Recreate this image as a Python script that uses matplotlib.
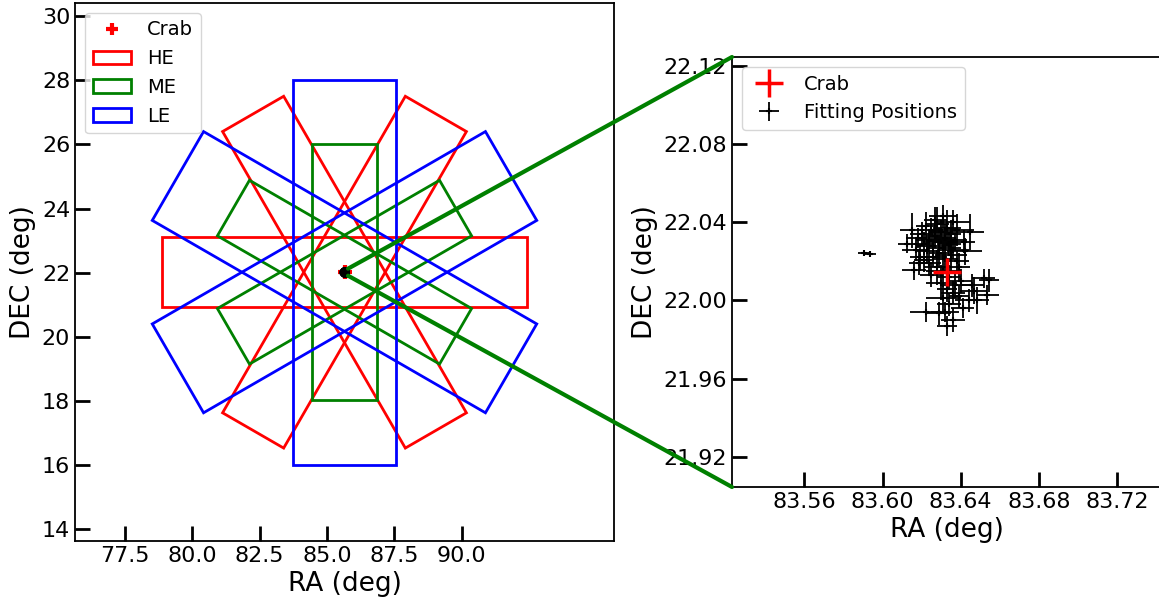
import numpy as np
import matplotlib
matplotlib.use("Agg")
import matplotlib.pyplot as plt
from matplotlib.patches import Polygon, ConnectionPatch

# Crab nebula position (deg)
crab_ra = 83.633
crab_dec = 22.0145

# centre of the field-of-view sketch as it sits on the left panel
fov_ra = 85.645
fov_dec = 22.0145

# full widths of the collimator fields (short side, long side) in deg
he_size = (2.2, 11.4)
me_size = (2.0, 8.0)
le_size = (3.2, 12.0)
# orientation of the long side (deg from the RA axis)
he_angles = [0, 60, -60]
me_angles = [90, 30, -30]
le_angles = [90, 30, -30]

# fitted source positions and their errors (deg)
fit_ra = [83.620, 83.622, 83.624, 83.625, 83.626, 83.627, 83.628, 83.629, 83.630, 83.631,
          83.632, 83.633, 83.634, 83.635, 83.636, 83.637, 83.638, 83.623, 83.626, 83.629,
          83.632, 83.635, 83.638, 83.621, 83.618, 83.617, 83.619, 83.624, 83.628, 83.631,
          83.634, 83.630, 83.633, 83.636, 83.631, 83.634, 83.632, 83.636, 83.633, 83.629,
          83.622, 83.640, 83.642, 83.6415, 83.645, 83.639, 83.6127, 83.6152, 83.6186, 83.616,
          83.6212, 83.646, 83.6467, 83.6518, 83.6544, 83.6486, 83.644, 83.6537, 83.5904, 83.5938,
          83.627, 83.631, 83.636, 83.625, 83.637, 83.639, 83.641]
fit_dec = [22.034, 22.038, 22.031, 22.036, 22.028, 22.033, 22.039, 22.030, 22.035, 22.027,
           22.032, 22.037, 22.029, 22.034, 22.026, 22.031, 22.036, 22.025, 22.022, 22.024,
           22.021, 22.023, 22.020, 22.029, 22.032, 22.026, 22.022, 22.019, 22.017, 22.015,
           22.012, 22.009, 22.006, 22.004, 22.001, 21.998, 21.994, 21.990, 21.987, 21.9934,
           21.994, 22.010, 22.025, 22.030, 22.035, 22.017, 22.029, 22.0358, 22.019, 22.0153,
           22.0204, 22.0077, 22.005, 22.0112, 22.0102, 22.000, 22.000, 22.0026, 22.0242, 22.0239,
           22.041, 22.043, 22.040, 22.013, 22.008, 22.002, 21.996]
fit_ra_err = [0.006, 0.005, 0.007, 0.006, 0.009, 0.005, 0.006, 0.008, 0.006, 0.009,
              0.005, 0.007, 0.006, 0.005, 0.008, 0.006, 0.009, 0.006, 0.007, 0.005,
              0.006, 0.008, 0.006, 0.005, 0.006, 0.007, 0.005, 0.006, 0.007, 0.009,
              0.006, 0.008, 0.005, 0.006, 0.009, 0.006, 0.007, 0.006, 0.005, 0.006,
              0.008, 0.006, 0.009, 0.006, 0.007, 0.006, 0.005, 0.006, 0.005, 0.006,
              0.005, 0.006, 0.007, 0.006, 0.005, 0.006, 0.007, 0.006, 0.003, 0.003,
              0.006, 0.007, 0.009, 0.006, 0.007, 0.005, 0.006]
fit_dec_err = [0.006, 0.007, 0.005, 0.006, 0.008, 0.006, 0.009, 0.007, 0.006, 0.005,
               0.007, 0.009, 0.006, 0.007, 0.005, 0.006, 0.008, 0.006, 0.005, 0.007,
               0.006, 0.008, 0.005, 0.006, 0.005, 0.006, 0.007, 0.006, 0.009, 0.008,
               0.006, 0.009, 0.007, 0.006, 0.008, 0.006, 0.005, 0.006, 0.005, 0.006,
               0.005, 0.006, 0.007, 0.006, 0.009, 0.007, 0.005, 0.009, 0.006, 0.005,
               0.006, 0.006, 0.007, 0.005, 0.006, 0.007, 0.006, 0.005, 0.001, 0.001,
               0.007, 0.006, 0.006, 0.006, 0.007, 0.006, 0.005]

zoom_half = 0.11

left_xlim = (75.645, 95.645)
left_ylim = (13.63, 30.41)
left_xticks = [77.5, 80.0, 82.5, 85.0, 87.5, 90.0]
left_yticks = [14, 16, 18, 20, 22, 24, 26, 28, 30]
right_xticks = [83.56, 83.60, 83.64, 83.68, 83.72]
right_yticks = [21.92, 21.96, 22.00, 22.04, 22.08, 22.12]

W, H = 1159, 607
fig = plt.figure(figsize=(W / 100, H / 100), dpi=100)
ax1 = fig.add_axes([75 / W, (H - 541) / H, 539 / W, 538 / H])
ax2 = fig.add_axes([732 / W, (H - 487) / H, 430 / W, 430 / H])

# RA stretch so that the sketch keeps its shape on screen
stretch = (left_xlim[1] - left_xlim[0]) / (left_ylim[1] - left_ylim[0]) * (538 / 539)


def fov_box(size, angle):
    w, l = size
    u = np.array([-l, l, l, -l]) / 2
    v = np.array([-w, -w, w, w]) / 2
    t = np.deg2rad(angle)
    x = u * np.cos(t) - v * np.sin(t)
    y = u * np.sin(t) + v * np.cos(t)
    return np.column_stack([fov_ra + x * stretch, fov_dec + y])


for size, angles, color, name in [(he_size, he_angles, "red", "HE"),
                                  (me_size, me_angles, "green", "ME"),
                                  (le_size, le_angles, "blue", "LE")]:
    for i, a in enumerate(angles):
        ax1.add_patch(Polygon(fov_box(size, a), closed=True, fill=False,
                              edgecolor=color, linewidth=2,
                              label=name if i == 0 else None))

ax1.plot(fov_ra, fov_dec, "+", color="red", markersize=10, mew=3, label="Crab", zorder=3)
# fitted positions collapse to a dot at this scale
left_fit_x = fov_ra + (np.array(fit_ra) - crab_ra) * stretch
left_fit_y = fov_dec + (np.array(fit_dec) - crab_dec)
ax1.plot(left_fit_x, left_fit_y, "o", color="black", markersize=5, zorder=4)

ax1.set_xlim(left_xlim)
ax1.set_ylim(left_ylim)
ax1.set_xticks(left_xticks)
ax1.set_yticks(left_yticks)
ax1.set_xlabel("RA (deg)", fontsize=19)
ax1.set_ylabel("DEC (deg)", fontsize=19)

h, l = ax1.get_legend_handles_labels()
order = [l.index("Crab"), l.index("HE"), l.index("ME"), l.index("LE")]
leg1 = ax1.legend([h[i] for i in order], [l[i] for i in order], loc="upper left", fontsize=14)
leg1.legend_handles[0].set_markersize(8)

# zoomed panel
ax2.plot(crab_ra, crab_dec, "+", color="red", markersize=20, mew=2.5, label="Crab", zorder=5)
ax2.errorbar(fit_ra, fit_dec, xerr=fit_ra_err, yerr=fit_dec_err, fmt="+", color="black",
             markersize=5, mew=1.5, elinewidth=1.3, label="Fitting Positions")
ax2.set_xlim(crab_ra - zoom_half, crab_ra + zoom_half)
ax2.set_ylim(crab_dec - zoom_half, crab_dec + zoom_half)
ax2.set_xticks(right_xticks)
ax2.set_yticks(right_yticks)
ax2.set_xticklabels([f"{t:.2f}" for t in right_xticks])
ax2.set_yticklabels([f"{t:.2f}" for t in right_yticks])
ax2.set_xlabel("RA (deg)", fontsize=19)
ax2.set_ylabel("DEC (deg)", fontsize=19)
ax2.legend(loc="upper left", fontsize=14)

for ax in (ax1, ax2):
    ax.tick_params(direction="in", length=11, width=2, labelsize=16)
    for s in ax.spines.values():
        s.set_linewidth(1.3)

# lines joining the Crab to the zoomed panel
for ya, yb in [(crab_dec + zoom_half, 1), (crab_dec - zoom_half, 0)]:
    con = ConnectionPatch(xyA=(fov_ra + zoom_half * stretch, fov_dec + (ya - crab_dec)),
                          coordsA=ax1.transData, xyB=(0, yb), coordsB=ax2.transAxes,
                          color="green", linewidth=3)
    fig.add_artist(con)

fig.savefig("out.png", dpi=100)
